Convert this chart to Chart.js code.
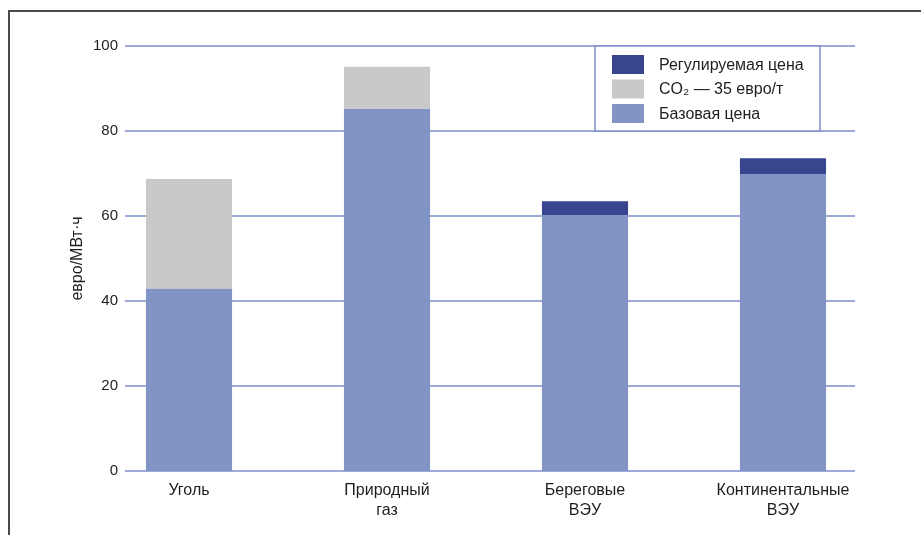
<!DOCTYPE html>
<html>
<head>
<meta charset="utf-8">
<script src="https://cdn.jsdelivr.net/npm/chart.js@4"></script>
<style>
  body { margin: 0; background: #fff; }
  #wrap { position: relative; width: 921px; height: 535px; }
  #frame { position: absolute; left: 8px; top: 10px; right: 0; bottom: 0;
           border-top: 2px solid #4a4a4a; border-left: 2px solid #4a4a4a; }
  canvas { position: absolute; left: 0; top: 0; }
</style>
</head>
<body>
<div id="wrap">
  <canvas id="myChart" width="921" height="535"></canvas>
  <div id="frame"></div>
</div>
<script>
// data (евро/МВт·ч)
const categories = ["Уголь", ["Природный", "газ"], ["Береговые", "ВЭУ"], ["Континентальные", "ВЭУ"]];
const basePrice = [42.9, 85.2, 60.2, 69.9];
const co2Price = [25.8, 9.9, 0, 0];
const regulatedPrice = [0, 0, 3.3, 3.7];
const yTicks = [0, 20, 40, 60, 80, 100];

const gridColor = "#7d8dcb";
const textColor = "#1e1e1e";
const fontFamily = "'Liberation Sans', Arial, sans-serif";

// horizontal grid lines (shorter than the bar area) and their labels
const gridPlugin = {
  id: "shortGrid",
  beforeDatasetsDraw(chart) {
    const ctx = chart.ctx, area = chart.chartArea, y = chart.scales.y;
    ctx.save();
    ctx.strokeStyle = gridColor;
    ctx.lineWidth = 1.5;
    ctx.fillStyle = textColor;
    ctx.font = "15px " + fontFamily;
    ctx.textAlign = "right";
    ctx.textBaseline = "middle";
    yTicks.forEach(v => {
      const py = y.getPixelForValue(v);
      ctx.beginPath();
      ctx.moveTo(area.left + 35, py);
      ctx.lineTo(area.right - 27, py);
      ctx.stroke();
      ctx.fillText(String(v), area.left + 28, py);
    });
    ctx.restore();
  }
};

// boxed legend in the top right, between the 100 and 80 grid lines
const legendPlugin = {
  id: "boxLegend",
  afterDatasetsDraw(chart) {
    const ctx = chart.ctx, area = chart.chartArea, y = chart.scales.y;
    const x0 = area.right - 287, x1 = area.right - 62;
    const y0 = y.getPixelForValue(100), y1 = y.getPixelForValue(80);
    ctx.save();
    ctx.fillStyle = "#fff";
    ctx.fillRect(x0, y0, x1 - x0, y1 - y0);
    ctx.strokeStyle = gridColor;
    ctx.lineWidth = 1.5;
    ctx.strokeRect(x0, y0, x1 - x0, y1 - y0);
    const items = chart.data.datasets.slice().reverse();
    ctx.font = "16px " + fontFamily;
    ctx.textBaseline = "middle";
    items.forEach((ds, i) => {
      const cy = y0 + 18.5 + i * 24.5;
      ctx.fillStyle = ds.backgroundColor;
      ctx.fillRect(x0 + 17, cy - 9.5, 32, 19);
      ctx.fillStyle = textColor;
      ctx.fillText(ds.label, x0 + 64, cy + 1);
    });
    ctx.restore();
  }
};

new Chart(document.getElementById("myChart"), {
  type: "bar",
  data: {
    labels: categories,
    datasets: [
      { label: "Базовая цена", data: basePrice, backgroundColor: "#8294c6" },
      { label: "CO₂ — 35 евро/т", data: co2Price, backgroundColor: "#c9c9c9" },
      { label: "Регулируемая цена", data: regulatedPrice, backgroundColor: "#38458f" }
    ]
  },
  options: {
    responsive: false,
    animation: false,
    layout: { padding: { top: 46, left: 10, right: 39, bottom: 0 } },
    datasets: { bar: { categoryPercentage: 1, barPercentage: 0.435, borderWidth: 0 } },
    plugins: { legend: { display: false }, tooltip: { enabled: false } },
    scales: {
      x: {
        stacked: true,
        grid: { display: false, drawTicks: false },
        border: { display: false },
        ticks: { color: textColor, padding: 10, font: { size: 16, family: fontFamily, lineHeight: 1.25 } },
        afterFit(scale) { scale.height = 64; }
      },
      y: {
        stacked: true,
        min: 0,
        max: 100,
        grid: { display: false, drawTicks: false },
        border: { display: false },
        ticks: { display: false, stepSize: 20 },
        title: { display: true, text: "евро/МВт·ч", color: textColor, padding: { top: 58, bottom: 0 },
                 font: { size: 16, family: fontFamily } },
        afterFit(scale) { scale.width = 80; }
      }
    }
  },
  plugins: [gridPlugin, legendPlugin]
});
</script>
</body>
</html>
